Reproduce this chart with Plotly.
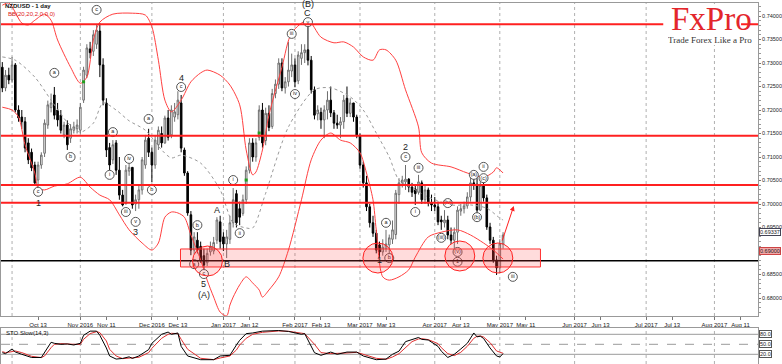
import pandas as pd
import plotly.graph_objects as go

# ---------------- data ----------------
# daily NZDUSD candles, session 0 = 2016-09-28
candle_open = [0.7291,0.7247,0.7274,0.7264,0.7296,0.7200,0.7185,0.7175,0.7130,0.7110,
               0.7083,0.7051,0.7083,0.7108,0.7168,0.7205,0.7232,0.7200,0.7189,0.7147,
               0.7168,0.7140,0.7157,0.7160,0.7157,0.7221,0.7274,0.7330,0.7325,0.7340,
               0.7368,0.7296,0.7215,0.7120,0.7094,0.7130,0.7072,0.7019,0.7000,0.7070,
               0.7078,0.7000,0.7009,0.7030,0.7083,0.7140,0.7110,0.7083,0.7126,0.7150,
               0.7130,0.7183,0.7147,0.7185,0.7190,0.7215,0.7115,0.7066,0.6977,0.6902,
               0.6923,0.6910,0.6890,0.6875,0.6898,0.6900,0.6923,0.6962,0.6930,0.6915,
               0.6925,0.6960,0.7022,0.6990,0.6980,0.7009,0.7072,0.7130,0.7100,0.7142,
               0.7200,0.7135,0.7193,0.7165,0.7235,0.7255,0.7300,0.7247,0.7260,0.7283,
               0.7296,0.7262,0.7310,0.7322,0.7328,0.7306,0.7243,0.7192,0.7195,0.7179,
               0.7200,0.7221,0.7194,0.7172,0.7168,0.7175,0.7225,0.7193,0.7215,0.7185,
               0.7145,0.7083,0.7045,0.6994,0.6960,0.6938,0.6913,0.6898,0.6905,0.6913,
               0.6925,0.6935,0.7020,0.7045,0.7047,0.7053,0.7036,0.7032,0.7025,0.7045,
               0.7009,0.7030,0.7002,0.6998,0.6994,0.6966,0.6960,0.6966,0.6934,0.6923,
               0.6940,0.6985,0.6990,0.6996,0.7015,0.7045,0.7042,0.6987,0.7040,0.7013,
               0.6951,0.6923,0.6881,0.6864,0.6915]
candle_high = [0.7302,0.7285,0.7290,0.7313,0.7300,0.7210,0.7200,0.7185,0.7140,0.7118,
               0.7090,0.7090,0.7110,0.7180,0.7220,0.7235,0.7249,0.7215,0.7200,0.7175,
               0.7178,0.7170,0.7175,0.7180,0.7215,0.7292,0.7340,0.7345,0.7370,0.7381,
               0.7385,0.7310,0.7225,0.7130,0.7136,0.7136,0.7100,0.7030,0.7083,0.7094,
               0.7078,0.7020,0.7040,0.7100,0.7147,0.7160,0.7120,0.7145,0.7165,0.7165,
               0.7188,0.7200,0.7210,0.7215,0.7240,0.7232,0.7120,0.7070,0.6985,0.6940,
               0.6940,0.6920,0.6905,0.6905,0.6920,0.6930,0.6972,0.6975,0.6940,0.6945,
               0.6975,0.7034,0.7030,0.7005,0.7020,0.7080,0.7140,0.7140,0.7140,0.7210,
               0.7215,0.7205,0.7210,0.7245,0.7265,0.7310,0.7310,0.7270,0.7345,0.7320,
               0.7310,0.7325,0.7340,0.7340,0.7377,0.7315,0.7250,0.7210,0.7205,0.7210,
               0.7240,0.7250,0.7200,0.7190,0.7185,0.7232,0.7250,0.7225,0.7215,0.7190,
               0.7150,0.7090,0.7060,0.7000,0.6975,0.6945,0.6920,0.6925,0.6945,0.6935,
               0.6965,0.7030,0.7055,0.7060,0.7083,0.7055,0.7045,0.7040,0.7062,0.7050,
               0.7040,0.7035,0.7020,0.7015,0.7005,0.6975,0.6987,0.6975,0.6950,0.6950,
               0.6995,0.7000,0.7005,0.7025,0.7060,0.7060,0.7055,0.7055,0.7062,0.7020,
               0.6960,0.6930,0.6890,0.6925,0.6940]
candle_low = [0.7238,0.7240,0.7255,0.7258,0.7195,0.7175,0.7160,0.7110,0.7085,0.7070,
              0.7040,0.7036,0.7075,0.7100,0.7160,0.7195,0.7180,0.7165,0.7150,0.7140,
              0.7115,0.7130,0.7150,0.7150,0.7150,0.7215,0.7268,0.7310,0.7315,0.7330,
              0.7270,0.7210,0.7100,0.7060,0.7085,0.7062,0.7009,0.6995,0.7005,0.7060,
              0.6990,0.6985,0.6990,0.7020,0.7075,0.7100,0.7047,0.7075,0.7115,0.7120,
              0.7128,0.7135,0.7140,0.7175,0.7180,0.7110,0.7060,0.6975,0.6891,0.6893,
              0.6895,0.6875,0.6860,0.6868,0.6890,0.6893,0.6915,0.6905,0.6900,0.6885,
              0.6915,0.6950,0.6950,0.6955,0.6975,0.7000,0.7065,0.7090,0.7090,0.7135,
              0.7120,0.7125,0.7155,0.7160,0.7225,0.7245,0.7240,0.7235,0.7250,0.7270,
              0.7249,0.7255,0.7296,0.7300,0.7295,0.7235,0.7180,0.7178,0.7160,0.7140,
              0.7180,0.7185,0.7160,0.7160,0.7140,0.7160,0.7185,0.7185,0.7175,0.7140,
              0.7075,0.7035,0.6985,0.6950,0.6930,0.6895,0.6887,0.6890,0.6898,0.6892,
              0.6915,0.6925,0.7000,0.7035,0.7030,0.7025,0.7015,0.6998,0.7020,0.7000,
              0.7000,0.6995,0.6985,0.6985,0.6955,0.6945,0.6950,0.6925,0.6915,0.6905,
              0.6915,0.6975,0.6980,0.6990,0.7005,0.7030,0.6980,0.6985,0.7005,0.6945,
              0.6915,0.6875,0.6849,0.6855,0.6905]
candle_close = [0.7247,0.7274,0.7264,0.7296,0.7200,0.7183,0.7175,0.7119,0.7094,0.7077,
                0.7045,0.7083,0.7104,0.7172,0.7211,0.7215,0.7189,0.7179,0.7157,0.7168,
                0.7126,0.7160,0.7164,0.7168,0.7206,0.7285,0.7332,0.7322,0.7360,0.7370,
                0.7296,0.7221,0.7115,0.7083,0.7126,0.7072,0.7019,0.6998,0.7072,0.7078,
                0.6998,0.7009,0.7030,0.7094,0.7136,0.7110,0.7083,0.7136,0.7157,0.7130,
                0.7183,0.7142,0.7200,0.7196,0.7221,0.7119,0.7066,0.6981,0.6902,0.6930,
                0.6902,0.6881,0.6870,0.6895,0.6910,0.6918,0.6966,0.6920,0.6915,0.6930,
                0.6960,0.7009,0.6960,0.6972,0.7009,0.7072,0.7130,0.7100,0.7130,0.7200,
                0.7130,0.7193,0.7163,0.7235,0.7255,0.7300,0.7247,0.7260,0.7285,0.7296,
                0.7260,0.7317,0.7322,0.7328,0.7306,0.7243,0.7189,0.7200,0.7179,0.7200,
                0.7221,0.7194,0.7172,0.7168,0.7175,0.7221,0.7193,0.7215,0.7185,0.7145,
                0.7083,0.7045,0.6994,0.6960,0.6938,0.6902,0.6898,0.6908,0.6915,0.6928,
                0.6945,0.7023,0.7045,0.7051,0.7053,0.7036,0.7025,0.7022,0.7047,0.7009,
                0.7030,0.7002,0.6998,0.6994,0.6962,0.6962,0.6966,0.6934,0.6923,0.6940,
                0.6987,0.6990,0.6996,0.7015,0.7045,0.7042,0.6987,0.7040,0.7013,0.6951,
                0.6923,0.6881,0.6864,0.6915,0.6934]

# Bollinger Bands (20, 2) read at selected sessions
bb_upper_day = [0,2,6,8,10,13,15,17,21,24,26,28,30,34,40,44,46,48,50,52,55,58,61,63,67,70,73,75,77,78,
                80,82,86,89,94,98,102,105,108,111,114,116,118,121,124,128,129,132,138,143,148,151,152,154]
bb_upper = [0.7423,0.7428,0.7385,0.7381,0.7391,0.7404,0.7391,0.7349,0.7291,0.7257,
            0.7270,0.7349,0.7387,0.7404,0.7406,0.7402,0.7377,0.7306,0.7221,0.7196,
            0.7221,0.7260,0.7279,0.7285,0.7274,0.7253,0.7211,0.7115,0.7062,0.7068,
            0.7115,0.7189,0.7291,0.7364,0.7391,0.7355,0.7343,0.7345,0.7334,0.7313,
            0.7306,0.7328,0.7328,0.7306,0.7243,0.7164,0.7109,0.7087,0.7079,0.7066,
            0.7057,0.7068,0.7077,0.7066]
bb_lower_day = [0,3,5,7,10,11,13,16,20,24,27,30,33,36,39,43,46,48,50,52,54,56,58,61,63,65,67,69,70,71,
                73,75,77,79,80,82,85,88,92,95,98,101,104,107,110,112,114,115,117,119,122,125,127,131,135,
                140,144,148,151,154]
bb_lower = [0.7206,0.7200,0.7185,0.7126,0.7066,0.7034,0.7030,0.7038,0.7043,0.7057,
            0.7036,0.7019,0.7009,0.6977,0.6945,0.6917,0.6902,0.6917,0.6972,0.6983,
            0.6981,0.6972,0.6934,0.6881,0.6838,0.6802,0.6770,0.6762,0.6785,0.6802,
            0.6828,0.6845,0.6832,0.6817,0.6802,0.6817,0.6845,0.6902,0.7009,0.7094,
            0.7136,0.7151,0.7136,0.7130,0.7109,0.7066,0.7009,0.6945,0.6845,0.6838,
            0.6845,0.6860,0.6887,0.6930,0.6940,0.6945,0.6934,0.6917,0.6902,0.6883]
bb_mid_day = [0,4,10,15,20,24,28,31,35,39,44,49,52,55,61,67,71,75,77,81,88,96,101,107,111,115,119,122,
              127,131,138,144,149,153,154]
bb_mid = [0.7313,0.7306,0.7270,0.7221,0.7174,0.7153,0.7172,0.7215,0.7200,0.7177,
          0.7157,0.7115,0.7098,0.7104,0.7087,0.7030,0.6960,0.6949,0.6949,0.7023,
          0.7164,0.7243,0.7247,0.7228,0.7200,0.7151,0.7100,0.7051,0.7030,0.7015,
          0.6998,0.6998,0.6991,0.6970,0.6966]

# Stochastic slow (14,3)
sto_k_day = [0,1,3,4,6,9,12,13,15,16,18,20,22,24,25,27,29,30,32,33,35,37,39,40,42,45,46,49,51,52,
             54,55,57,61,65,67,70,72,73,75,77,80,85,88,92,93,96,98,101,103,106,109,111,115,118,120,
             122,124,126,128,129,131,134,135,137,139,141,143,145,146,147,148,150,152,153,154]
sto_k = [24.8,22,36,27,20,10.5,10.5,25,56,53,50,51,48,53,77,89.5,89.5,77,39,15,
         5.7,7.6,12.4,7.6,15,34,53,80,86.7,80,84,43.8,15,3.8,3.8,15,17,48,62,82,
         84,89.5,91.4,88.6,80,82,24.8,17,26.7,20,26.7,26.7,15,3.8,5.7,20,29.5,58,64.8,70.5,
         64.8,62.9,43.8,29.5,10.5,20,36,53,84,72.4,74.3,67.6,39,15,12,22]
sto_d_day = [0,1,3,4,6,9,12,13,15,16,18,20,22,24,25,27,29,30,32,33,35,37,39,40,42,45,46,49,51,52,
             54,55,57,61,65,67,70,72,73,75,77,80,85,88,92,93,96,98,101,103,106,109,111,115,118,120,
             122,124,126,128,129,131,134,135,137,139,141,143,145,146,147,148,150,152,154]
sto_d = [28,25,28,30,25,14,10,15,40,50,52,50,50,50,65,82,88,85,60,35,
         15,7,9,9,11,25,38,68,80,83,82,65,35,8,4,9,15,33,48,68,
         80,86,90,89,84,82,50,25,22,22,24,26,20,8,5,12,22,40,58,66,
         67,64,52,40,22,16,26,44,68,74,75,72,55,30,23]
sto_levels = [80, 50, 20]

# horizontal levels
red_levels = [0.73823, 0.71453, 0.70404, 0.70028]
black_level = 0.68793
zone_low, zone_high = 0.68660, 0.69043
zone_from_day, zone_to_day = 54.8, 165.5

# axis labels
price_ticks = [0.680, 0.685, 0.695, 0.700, 0.705, 0.710, 0.715, 0.720, 0.725, 0.730, 0.735, 0.740]
tick_dates = ["2016-10-13","2016-11-01","2016-11-11","2016-12-01","2016-12-13","2017-01-02","2017-01-12",
              "2017-02-01","2017-02-13","2017-03-01","2017-03-13","2017-04-03","2017-04-13","2017-05-01",
              "2017-05-11","2017-06-01","2017-06-13","2017-07-03","2017-07-13","2017-08-01","2017-08-11"]
tick_text = ["Oct 13","Nov 2016","Nov 11","Dec 2016","Dec 13","Jan 2017","Jan 12","Feb 2017","Feb 13",
             "Mar 2017","Mar 13","Apr 2017","Apr 13","May 2017","May 11","Jun 2017","Jun 13","Jul 2017",
             "Jul 13","Aug 2017","Aug 11"]
grid_dates = ["2016-10-03","2016-11-01","2016-12-01","2017-01-02","2017-02-01","2017-03-01","2017-04-03",
              "2017-05-01","2017-06-01","2017-07-03","2017-08-01"]

# wave labels
circ_text = ["c","a","b","c","a","i","iv","iii","v","a","b","c","a","b","c","i","ii","iii","iv","v",
             "c","iii","i","a","b","(iv)","(iii)","(v)","1","(a)","(c)","ii","(b)","iii"]
circ_day = [11,16,21,29,34,33,39,38,41,45,46,55,59,60,62,71,73,89,90,94,
            124,128,127,118,119,137,135,140,140,145,148,148,146,157]
circ_price = [0.7026,0.7279,0.7100,0.7413,0.7153,0.7062,0.7096,0.6983,0.6962,0.7181,
              0.7030,0.7249,0.6872,0.6955,0.6851,0.7051,0.6938,0.7362,0.7234,0.7387,
              0.7100,0.7077,0.6983,0.6960,0.6885,0.7002,0.6928,0.6898,0.6877,0.7062,
              0.7055,0.7079,0.6972,0.6845]
plain_text = ["1","2","3","4","5","(A)","A","B","C","(B)","2","1"]
plain_day = [11,29,41,55,62,62,66,69,94,94,124,116]
plain_price = [0.7002,0.7432,0.6940,0.7268,0.6830,0.6806,0.6987,0.6872,0.7406,0.74255,0.7121,0.6881]

ellipse_day = [63.1, 115.5, 140.7, 152.4]
ellipse_price = [0.68787, 0.68851, 0.68894, 0.68851]
signal_day = [25, 75, 79]
signal_price = [0.7260, 0.7051, 0.7151]
arrow_from = (153.6, 0.6919)
arrow_to = (157.3, 0.6996)
last_price_text = "0.69337"
last_price = 0.6940
ask_text = "0.69000"
ask_price = 0.6900

# ---------------- figure ----------------
all_days = pd.bdate_range("2016-09-28", "2017-08-31")
day_no = {d.strftime("%Y-%m-%d"): i for i, d in enumerate(all_days)}
candle_x = list(range(len(candle_open)))

W, H = 782, 364
PW = 759  # plot-area width in px (paper x is relative to it)
main_dom = [1 - 316 / H, 1 - 3 / H]
sub_dom = [0, 1 - 328 / H]
FONT = "Liberation Sans"


def px(xp):
    return xp / PW


def py(yp):
    return 1 - yp / H


fig = go.Figure()
fig.add_trace(go.Candlestick(
    x=candle_x, open=candle_open, high=candle_high, low=candle_low, close=candle_close,
    increasing=dict(line=dict(color="#6e6e6e", width=1), fillcolor="white"),
    decreasing=dict(line=dict(color="black", width=1), fillcolor="black"),
    whiskerwidth=0, xaxis="x", yaxis="y", hoverinfo="skip"))

for dx, dy, col, dash in [(bb_upper_day, bb_upper, "#ff4040", "solid"),
                          (bb_lower_day, bb_lower, "#ff4040", "solid"),
                          (bb_mid_day, bb_mid, "#9a9a9a", "dot")]:
    fig.add_trace(go.Scatter(x=dx, y=dy, mode="lines", xaxis="x", yaxis="y",
                             line=dict(color=col, width=1, dash=dash, shape="spline", smoothing=0.8),
                             hoverinfo="skip", cliponaxis=True))

fig.add_trace(go.Scatter(x=signal_day, y=signal_price, mode="markers", xaxis="x", yaxis="y",
                         marker=dict(symbol="square", size=3, color="#1fa01f"), hoverinfo="skip"))

fig.add_trace(go.Scatter(x=sto_d_day, y=sto_d, mode="lines", xaxis="x2", yaxis="y2",
                         line=dict(color="#e03030", width=1), hoverinfo="skip"))
fig.add_trace(go.Scatter(x=sto_k_day, y=sto_k, mode="lines", xaxis="x2", yaxis="y2",
                         line=dict(color="black", width=1), hoverinfo="skip"))

fig.add_trace(go.Scatter(x=circ_day, y=circ_price, mode="markers+text", text=circ_text,
                         textposition="middle center", xaxis="x", yaxis="y",
                         marker=dict(symbol="circle", size=9, color="white",
                                     line=dict(color="#555", width=1)),
                         textfont=dict(size=5.5, color="#222", family=FONT),
                         hoverinfo="skip", cliponaxis=False))

shapes = []
for g in grid_dates:
    for yr in ["y domain", "y2 domain"]:
        shapes.append(dict(type="line", xref="x", yref=yr, x0=day_no[g], x1=day_no[g], y0=0, y1=1,
                           line=dict(color="#b0b0b0", width=1, dash="dot"), layer="below"))
for lv in red_levels:
    shapes.append(dict(type="line", xref="paper", yref="y", x0=0, x1=1, y0=lv, y1=lv,
                       line=dict(color="#ff2020", width=2)))
shapes.append(dict(type="line", xref="paper", yref="y", x0=0, x1=1, y0=black_level, y1=black_level,
                   line=dict(color="black", width=1.5)))
shapes.append(dict(type="rect", xref="x", yref="y", x0=zone_from_day, x1=zone_to_day,
                   y0=zone_low, y1=zone_high, fillcolor="rgba(255,60,60,0.18)",
                   line=dict(color="#ff3030", width=1)))
for cd, cp in zip(ellipse_day, ellipse_price):
    shapes.append(dict(type="circle", xref="x", yref="y", x0=cd - 4.6, x1=cd + 4.6,
                       y0=cp - 0.00319, y1=cp + 0.00319, fillcolor="rgba(255,60,60,0.15)",
                       line=dict(color="#ff2020", width=1)))
for lv, dash in zip(sto_levels, ["solid", "dash", "solid"]):
    shapes.append(dict(type="line", xref="paper", yref="y2", x0=0, x1=1, y0=lv, y1=lv,
                       line=dict(color="#9a9a9a", width=1, dash=dash), layer="below"))
# logo background
shapes.append(dict(type="rect", xref="paper", yref="paper", x0=px(664), x1=px(742),
                   y0=py(45), y1=py(4), fillcolor="white", line=dict(width=0)))

ann = []
for t, d, p in zip(plain_text, plain_day, plain_price):
    ann.append(dict(x=d, y=p, xref="x", yref="y", text=t, showarrow=False,
                    font=dict(size=9, color="#222", family=FONT)))
ann.append(dict(x=arrow_to[0], y=arrow_to[1], ax=arrow_from[0], ay=arrow_from[1], xref="x", yref="y",
                axref="x", ayref="y", showarrow=True, arrowhead=2, arrowsize=1, arrowwidth=1,
                arrowcolor="#ff2020", text=""))
ann.append(dict(x=px(2), y=py(1), xref="paper", yref="paper", xanchor="left", yanchor="top",
                text="<b>NZDUSD - 1 day</b>", showarrow=False, font=dict(size=6, color="#111", family=FONT)))
ann.append(dict(x=px(5), y=py(9), xref="paper", yref="paper", xanchor="left", yanchor="top",
                text="BB(20,20,2.0,0,0)", showarrow=False, font=dict(size=6, color="#e02020", family=FONT)))
ann.append(dict(x=px(3), y=py(328), xref="paper", yref="paper", xanchor="left", yanchor="top",
                text="STO Slow(14,3)", showarrow=False, font=dict(size=6, color="#111", family=FONT)))
ann.append(dict(x=px(712), y=py(18.5), xref="paper", yref="paper", xanchor="center", yanchor="middle",
                text="FxPro", showarrow=False, borderpad=0, borderwidth=0, height=27,
                font=dict(size=33, color="#e3262c", family="Liberation Serif")))
ann.append(dict(x=px(711), y=py(35), xref="paper", yref="paper", xanchor="center", yanchor="top",
                text="Trade Forex Like a Pro", showarrow=False, borderpad=0, borderwidth=0, height=9,
                font=dict(size=9, color="#333", family="Liberation Serif")))
ann.append(dict(x=1, y=last_price, xref="paper", yref="y", xanchor="left", xshift=1, text=last_price_text,
                showarrow=False, bgcolor="white", bordercolor="#445", borderwidth=1, borderpad=0,
                font=dict(size=5.5, color="#222", family=FONT)))
ann.append(dict(x=1, y=ask_price, xref="paper", yref="y", xanchor="left", xshift=1, text=ask_text,
                showarrow=False, bgcolor="#f3a7a7", bordercolor="#c44", borderwidth=1, borderpad=0,
                font=dict(size=5.5, color="#222", family=FONT)))
for lv in sto_levels:
    ann.append(dict(x=1, y=lv, xref="paper", yref="y2", xanchor="left", xshift=1, text=f"{lv:.1f}",
                    showarrow=False, bgcolor="white", bordercolor="#555", borderwidth=1, borderpad=0,
                    font=dict(size=5.5, color="#222", family=FONT)))

fig.update_layout(
    width=W, height=H, margin=dict(l=0, r=W - PW, t=0, b=0),
    paper_bgcolor="white", plot_bgcolor="white", showlegend=False, hovermode=False,
    shapes=shapes, annotations=ann,
    xaxis=dict(domain=[0, 1], anchor="y", range=[-0.4, 232.4],
               tickvals=[day_no[d] for d in tick_dates], ticktext=tick_text,
               ticks="outside", ticklen=3, tickcolor="#777",
               tickfont=dict(size=6, color="#222", family=FONT),
               showgrid=False, zeroline=False, showline=True, linecolor="#999", mirror=True,
               rangeslider=dict(visible=False)),
    yaxis=dict(domain=main_dom, anchor="x", side="right", range=[0.67617, 0.74277],
               tickvals=price_ticks, tickformat=".5f", ticks="outside", ticklen=2, tickcolor="#777",
               tickfont=dict(size=5.5, color="#222", family=FONT), ticklabelstandoff=0,
               minor=dict(dtick=0.001, ticks="outside", ticklen=2, tickcolor="#999"),
               showgrid=False, zeroline=False, showline=True, linecolor="#999", mirror=True),
    xaxis2=dict(domain=[0, 1], anchor="y2", matches="x", showticklabels=False, ticks="",
                showgrid=False, zeroline=False, showline=True, linecolor="#999", mirror=True),
    yaxis2=dict(domain=sub_dom, anchor="x2", side="right", range=[-9.1, 98.9], showticklabels=False,
                ticks="", showgrid=False, zeroline=False, showline=True, linecolor="#999", mirror=True),
)

fig.write_html("out.html", config={"displayModeBar": False, "staticPlot": True},
               post_script="document.body.style.margin='0px';document.body.style.overflow='hidden';")
